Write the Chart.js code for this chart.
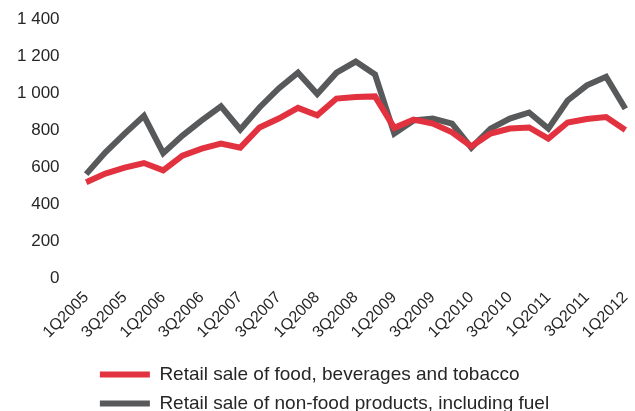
<!DOCTYPE html>
<html>
<head>
<meta charset="utf-8">
<script src="https://cdn.jsdelivr.net/npm/chart.js@4"></script>
<style>
  html, body { margin: 0; padding: 0; background: #ffffff; }
  #wrap { width: 635px; height: 411px; position: relative; }
</style>
</head>
<body>
<div id="wrap"><canvas id="retailChart"></canvas></div>
<script>
// Quarters 1Q2005 .. 1Q2012
var quarters = [
    '1Q2005', '2Q2005', '3Q2005', '4Q2005',
    '1Q2006', '2Q2006', '3Q2006', '4Q2006',
    '1Q2007', '2Q2007', '3Q2007', '4Q2007',
    '1Q2008', '2Q2008', '3Q2008', '4Q2008',
    '1Q2009', '2Q2009', '3Q2009', '4Q2009',
    '1Q2010', '2Q2010', '3Q2010', '4Q2010',
    '1Q2011', '2Q2011', '3Q2011', '4Q2011',
    '1Q2012'
];
var foodSales = [
    518, 565, 597, 622, 582, 662, 700, 727, 705, 814,
    862, 920, 880, 970, 978, 982, 812, 857, 835, 788,
    712, 781, 808, 814, 754, 841, 860, 870, 800
];
var nonFoodSales = [
    562, 680, 781, 877, 675, 770, 852, 928, 803, 922,
    1025, 1110, 995, 1110, 1170, 1100, 781, 852, 862, 835,
    705, 808, 862, 895, 808, 960, 1042, 1088, 915
];
var seriesNames = [
    'Retail sale of food, beverages and tobacco',
    'Retail sale of non-food products, including fuel'
];
var yTicks = [0, 200, 400, 600, 800, 1000, 1200, 1400];

var RED = '#e2323f';
var GREY = '#58595b';
var TEXT = '#262626';

Chart.defaults.font.family = "'Liberation Sans', Arial, sans-serif";
Chart.defaults.font.size = 16;
Chart.defaults.color = TEXT;

function spaced(v) {
    return String(v).replace(/\B(?=(\d{3})+(?!\d))/g, ' ');
}

// stop rotated / edge labels from pushing the plot area inwards
function noEdgePadding(scale) {
    scale.paddingLeft = 0;
    scale.paddingRight = 0;
    scale.paddingTop = 0;
    scale.paddingBottom = 0;
}

// legend rows share one left edge instead of being centred one by one,
// nudged a little to the right
var legendRowsLeft = {
    id: 'legendRowsLeft',
    afterUpdate: function(chart) {
        var lg = chart.legend;
        if (!lg || !lg.lineWidths) return;
        var w = Math.max.apply(null, lg.lineWidths) - 14;
        lg.lineWidths = lg.lineWidths.map(function() { return w; });
    }
};

var ctx = document.getElementById('retailChart').getContext('2d');
var chart = new Chart(ctx, {
    type: 'line',
    data: {
        labels: quarters,
        datasets: [{
            label: seriesNames[0],
            data: foodSales,
            borderColor: RED,
            backgroundColor: RED,
            borderWidth: 6,
            pointRadius: 0,
            tension: 0,
            borderJoinStyle: 'miter'
        }, {
            label: seriesNames[1],
            data: nonFoodSales,
            borderColor: GREY,
            backgroundColor: GREY,
            borderWidth: 6,
            pointRadius: 0,
            tension: 0,
            borderJoinStyle: 'miter'
        }]
    },
    plugins: [legendRowsLeft],
    options: {
        responsive: true,
        maintainAspectRatio: false,
        animation: false,
        layout: {
            padding: { left: 0, right: 0, top: 19, bottom: -12 }
        },
        plugins: {
            tooltip: { enabled: false },
            legend: {
                display: true,
                position: 'bottom',
                labels: {
                    font: { size: 19 },
                    boxWidth: 50,
                    boxHeight: 6,
                    padding: 10,
                    useBorderRadius: true,
                    borderRadius: 3,
                    generateLabels: function(c) {
                        return c.data.datasets.map(function(ds, i) {
                            return {
                                text: ds.label,
                                fillStyle: ds.borderColor,
                                strokeStyle: ds.borderColor,
                                lineWidth: 0,
                                fontColor: TEXT,
                                hidden: false,
                                datasetIndex: i
                            };
                        });
                    }
                }
            }
        },
        scales: {
            x: {
                offset: true,
                afterFit: function(scale) {
                    noEdgePadding(scale);
                    scale.height += 3;
                },
                grid: { display: false, drawTicks: false },
                border: { display: false },
                ticks: {
                    autoSkip: false,
                    minRotation: 45,
                    maxRotation: 45,
                    padding: 10,
                    callback: function(val, idx) {
                        return idx % 2 === 0 ? quarters[idx] : '';
                    }
                }
            },
            y: {
                min: yTicks[0],
                max: yTicks[yTicks.length - 1],
                afterBuildTicks: function(axis) {
                    axis.ticks = yTicks.map(function(v) { return { value: v }; });
                },
                afterFit: noEdgePadding,
                grid: { display: false, drawTicks: false },
                border: { display: false },
                ticks: {
                    padding: 17,
                    font: { size: 17 },
                    callback: function(v) { return spaced(v); }
                }
            }
        }
    }
});
</script>
</body>
</html>
